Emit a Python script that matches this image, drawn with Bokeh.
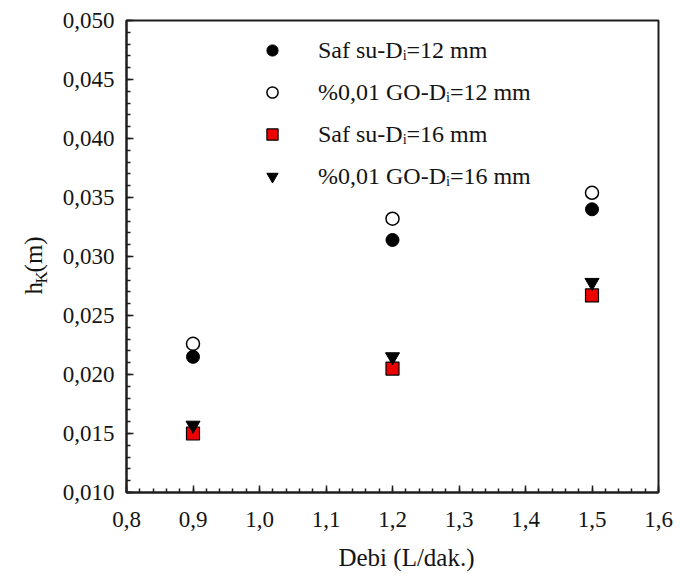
import numpy as np
from bokeh.plotting import figure
from bokeh.layouts import row, column
from bokeh.models import ColumnDataSource, FixedTicker, Legend, LegendItem
from bokeh.core.properties import value
from bokeh.embed import file_html
from bokeh.resources import INLINE

# Flow rate (L/dak.) and measured head h_K (m)
debi = [0.9, 1.2, 1.5]
saf_su_12 = [0.0215, 0.0314, 0.0340]
go_12 = [0.0226, 0.0332, 0.0354]
saf_su_16 = [0.0150, 0.0205, 0.0267]
go_16 = [0.0157, 0.0215, 0.0278]

series_labels = [
    "Saf su-D\u1d62=12 mm",
    "%0,01 GO-D\u1d62=12 mm",
    "Saf su-D\u1d62=16 mm",
    "%0,01 GO-D\u1d62=16 mm",
]

x_ticks = [0.8, 0.9, 1.0, 1.1, 1.2, 1.3, 1.4, 1.5, 1.6]
x_tick_labels = ["0,8", "0,9", "1,0", "1,1", "1,2", "1,3", "1,4", "1,5", "1,6"]
y_ticks = [0.010, 0.015, 0.020, 0.025, 0.030, 0.035, 0.040, 0.045, 0.050]
y_tick_labels = ["0,010", "0,015", "0,020", "0,025", "0,030", "0,035", "0,040", "0,045", "0,050"]

x_title = "Debi (L/dak.)"
y_title_parts = ["h", "K", "(m)"]

FONT = "Liberation Serif"
TXT = "#141414"
LEFT_W = 58      # width of the strip holding the vertical title
BOTTOM_H = 40    # height of the strip holding the horizontal title
MAIN_H = 574 - BOTTOM_H

# ---- main scatter chart ----
p = figure(width=681 - LEFT_W, height=MAIN_H, x_range=(0.8, 1.6), y_range=(0.010, 0.050),
           output_backend="svg", toolbar_location=None,
           min_border_left=126 - LEFT_W, min_border_right=23, min_border_top=20,
           min_border_bottom=MAIN_H - 492)
p.grid.visible = False
p.background_fill_color = "white"
p.border_fill_color = "white"
p.outline_line_color = "#1e1e1e"
p.outline_line_width = 2

x_minor = list(np.round(np.arange(0.8, 1.6001, 0.02), 3))
y_minor = list(np.round(np.arange(0.010, 0.05001, 0.001), 4))
p.xaxis.ticker = FixedTicker(ticks=x_ticks, minor_ticks=x_minor)
p.yaxis.ticker = FixedTicker(ticks=y_ticks, minor_ticks=y_minor)
p.xaxis.major_label_overrides = dict(zip(x_ticks, x_tick_labels))
p.yaxis.major_label_overrides = dict(zip(y_ticks, y_tick_labels))

for ax in (p.xaxis[0], p.yaxis[0]):
    ax.axis_line_color = "#1e1e1e"
    ax.axis_line_width = 2
    ax.major_tick_line_color = "#1e1e1e"
    ax.minor_tick_line_color = "#1e1e1e"
    ax.major_tick_line_width = 1.5
    ax.minor_tick_line_width = 1.5
    ax.major_tick_in = 7
    ax.major_tick_out = 0
    ax.minor_tick_in = 4
    ax.minor_tick_out = 0
    ax.major_label_text_font = FONT
    ax.major_label_text_font_size = "23px"
    ax.major_label_text_color = TXT
p.xaxis.major_label_standoff = 19
p.yaxis.major_label_standoff = 12

src = ColumnDataSource(dict(x=debi, a=saf_su_12, b=go_12, c=saf_su_16, d=go_16))

r_open = p.scatter("x", "b", source=src, marker="circle", size=13,
                   fill_color="white", line_color="black", line_width=1.5)
r_fill = p.scatter("x", "a", source=src, marker="circle", size=13,
                   fill_color="black", line_color="black")
r_sq = p.scatter("x", "c", source=src, marker="square", size=13,
                 fill_color="#ee0000", line_color="black", line_width=1.2)
r_tri = p.scatter("x", "d", source=src, marker="inverted_triangle", size=14,
                  fill_color="black", line_color="black")

legend = Legend(items=[
    LegendItem(label=series_labels[0], renderers=[r_fill]),
    LegendItem(label=series_labels[1], renderers=[r_open]),
    LegendItem(label=series_labels[2], renderers=[r_sq]),
    LegendItem(label=series_labels[3], renderers=[r_tri]),
], location=(132, 302))
legend.padding = 0
legend.margin = 0
legend.glyph_width = 28
legend.glyph_height = 28
legend.label_height = 28
legend.spacing = 14
legend.label_standoff = 32
legend.label_text_font = FONT
legend.label_text_font_size = "24px"
legend.label_text_color = TXT
legend.border_line_color = None
legend.background_fill_alpha = 0
p.add_layout(legend, "center")


def title_strip(w, h):
    f = figure(width=w, height=h, x_range=(0, w), y_range=(0, h),
               x_axis_type=None, y_axis_type=None, output_backend="svg",
               toolbar_location=None, min_border=0)
    f.grid.visible = False
    f.outline_line_color = None
    f.background_fill_color = "white"
    f.border_fill_color = "white"
    return f


# ---- vertical title h_K(m), read bottom to top ----
ylab = title_strip(LEFT_W, MAIN_H)
ysrc = ColumnDataSource(dict(
    x=[33, 41, 33],
    y=[224, 236.5, 249],
    t=y_title_parts,
    s=["25px", "17px", "25px"],
))
ylab.text("x", "y", text="t", source=ysrc, angle=np.pi / 2,
          text_font=value(FONT), text_font_size="s", text_color=TXT,
          text_align="left", text_baseline="alphabetic")

# ---- horizontal title ----
xlab = title_strip(681, BOTTOM_H)
xlab.text(x=[406], y=[17], text=[x_title],
          text_font=value(FONT), text_font_size="25px", text_color=TXT,
          text_align="center", text_baseline="alphabetic")

layout = column(row(ylab, p, spacing=0), xlab, spacing=0)
open("out.html", "w").write(file_html(layout, INLINE))
